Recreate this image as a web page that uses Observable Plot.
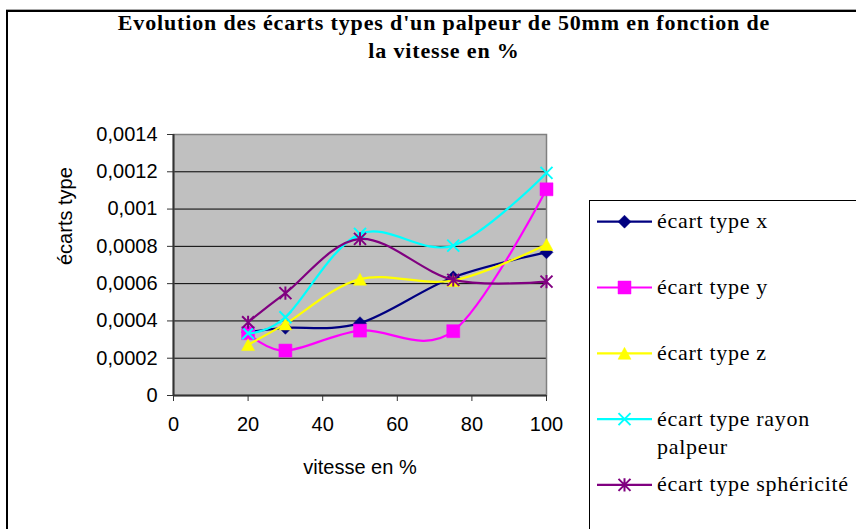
<!DOCTYPE html>
<html>
<head>
<meta charset="utf-8">
<script src="https://cdn.jsdelivr.net/npm/d3@7"></script>
<script src="https://cdn.jsdelivr.net/npm/@observablehq/plot@0.6"></script>
<style>
  html, body { margin: 0; padding: 0; background: #fff; }
  body { width: 856px; height: 529px; overflow: hidden; position: relative; }
  #chart-area {
    position: absolute; left: 6px; top: 10px; width: 900px; height: 600px;
    border: 2px solid #000; box-shadow: 0 -1px 0 #a8a8a8; box-sizing: border-box;
  }
  #title {
    position: absolute; left: 0; top: 9px; width: 888px; text-align: center;
    font-family: "Liberation Serif", "Times New Roman", serif; font-weight: bold;
    font-size: 22px; line-height: 28px; letter-spacing: 0.85px; color: #000;
  }
  #plot { position: absolute; left: 0; top: 0; }
  #legend { position: absolute; left: 0; top: 0; }
</style>
</head>
<body>
<div id="chart-area"></div>
<div id="title">Evolution des écarts types d'un palpeur de 50mm en fonction de<br>la vitesse en %</div>
<div id="plot"></div>
<svg id="legend" width="856" height="529"></svg>
<script>
// Speed settings (% of max) and standard deviations for each measured quantity
const vitesse = [20, 30, 50, 75, 100];
const ecartTypeX = [0.00034, 0.000363, 0.000388, 0.000634, 0.000768];
const ecartTypeY = [0.000334, 0.000241, 0.000348, 0.000345, 0.001106];
const ecartTypeZ = [0.000273, 0.000384, 0.000624, 0.000617, 0.00081];
const ecartTypeRayon = [0.000334, 0.00042, 0.000867, 0.000804, 0.001194];
const ecartTypeSphericite = [0.000393, 0.000549, 0.00084, 0.00062, 0.000611];

const seriesNames = ["écart type x", "écart type y", "écart type z", "écart type rayon palpeur", "écart type sphéricité"];
const seriesValues = [ecartTypeX, ecartTypeY, ecartTypeZ, ecartTypeRayon, ecartTypeSphericite];

const xTicks = [0, 20, 40, 60, 80, 100];
const yTicks = [0, 0.0002, 0.0004, 0.0006, 0.0008, 0.001, 0.0012, 0.0014];

// Marker shapes in the spreadsheet style (bounding box centred on the point)
const rOf = size => Math.sqrt(size / Math.PI);
const symDiamond = { draw(c, size) { const h = rOf(size); c.moveTo(0, -h); c.lineTo(h, 0); c.lineTo(0, h); c.lineTo(-h, 0); c.closePath(); } };
const symSquare = { draw(c, size) { const h = rOf(size); c.rect(-h, -h, 2 * h, 2 * h); } };
const symTriangle = { draw(c, size) { const h = rOf(size); c.moveTo(0, -h * 0.92); c.lineTo(h, h * 0.92); c.lineTo(-h, h * 0.92); c.closePath(); } };
const symTimes = { draw(c, size) { const h = rOf(size); c.moveTo(-h, -h); c.lineTo(h, h); c.moveTo(h, -h); c.lineTo(-h, h); } };
const symAsterisk = { draw(c, size) { const h = rOf(size); c.moveTo(-h, -h); c.lineTo(h, h); c.moveTo(h, -h); c.lineTo(-h, h); c.moveTo(0, -h * 1.1); c.lineTo(0, h * 1.1); } };

const styles = [
  { color: "#000080", symbol: symDiamond, r: 6.5, filled: true },
  { color: "#ff00ff", symbol: symSquare, r: 6.5, filled: true },
  { color: "#ffff00", symbol: symTriangle, r: 6.5, filled: true },
  { color: "#00ffff", symbol: symTimes, r: 6, filled: false },
  { color: "#800080", symbol: symAsterisk, r: 6, filled: false }
];

const rows = seriesNames.flatMap((name, i) =>
  vitesse.map((v, j) => ({ series: name, vitesse: v, ecart: seriesValues[i][j] })));

const fmtY = d => String(+d.toFixed(4)).replace(".", ",");

const seriesMarks = seriesNames.flatMap((name, i) => {
  const data = rows.filter(d => d.series === name);
  const s = styles[i];
  return [
    Plot.line(data, { x: "vitesse", y: "ecart", stroke: s.color, strokeWidth: 2.2, curve: "cardinal" }),
    Plot.dot(data, {
      x: "vitesse", y: "ecart", symbol: s.symbol, r: s.r,
      fill: s.filled ? s.color : "none", stroke: s.color, strokeWidth: s.filled ? 0.5 : 2
    })
  ];
});

const chart = Plot.plot({
  width: 856,
  height: 529,
  marginLeft: 173,
  marginRight: 310,
  marginTop: 134,
  marginBottom: 134,
  x: { domain: [0, 100] },
  y: { domain: [0, 0.0014] },
  style: { fontFamily: "'Liberation Sans', Arial, sans-serif", fontSize: "20px", background: "transparent", color: "#000" },
  marks: [
    Plot.frame({ fill: "#c0c0c0" }),
    Plot.gridY(yTicks.slice(1, -1), { stroke: "#000", strokeOpacity: 1, strokeWidth: 1 }),
    Plot.frame({ stroke: "#808080", strokeWidth: 1.5 }),
    Plot.ruleX([0], { stroke: "#333", strokeWidth: 2 }),
    Plot.ruleY([0], { stroke: "#333", strokeWidth: 2 }),
    Plot.axisY(yTicks, { tickSize: 6, tickPadding: 10, tickFormat: fmtY, label: null, fontSize: 20, stroke: "#333" }),
    Plot.axisX(xTicks, { tickSize: 6, tickPadding: 15, label: null, fontSize: 20, stroke: "#333" }),
    Plot.text(["écarts type"], { frameAnchor: "left", dx: -108, rotate: -90, fontSize: 20, lineAnchor: "middle" }),
    Plot.text(["vitesse en %"], { frameAnchor: "bottom", dy: 72, fontSize: 20, lineAnchor: "middle" }),
    ...seriesMarks
  ]
});
document.getElementById("plot").appendChild(chart);

// Legend box on the right
const legend = d3.select("#legend");
legend.append("rect").attr("x", 589.5).attr("y", 200.5).attr("width", 320).attr("height", 400)
  .attr("fill", "#fff").attr("stroke", "#000").attr("stroke-width", 1);
const legendLines = [["écart type x"], ["écart type y"], ["écart type z"], ["écart type rayon", "palpeur"], ["écart type sphéricité"]];
legendLines.forEach((lines, i) => {
  const y = 221.7 + i * 65.8;
  const s = styles[i];
  const g = legend.append("g");
  g.append("line").attr("x1", 597).attr("x2", 652).attr("y1", y).attr("y2", y)
    .attr("stroke", s.color).attr("stroke-width", 2.2);
  g.append("path").attr("transform", `translate(624.5,${y})`)
    .attr("d", d3.symbol(s.symbol, Math.PI * s.r * s.r)())
    .attr("fill", s.filled ? s.color : "none").attr("stroke", s.color)
    .attr("stroke-width", s.filled ? 0.5 : 2);
  lines.forEach((t, k) => {
    g.append("text").attr("x", 657).attr("y", y + 6.5 + k * 28)
      .attr("font-family", "'Liberation Serif', 'Times New Roman', serif")
      .attr("font-size", 22).attr("letter-spacing", 0.7).attr("fill", "#000").text(t);
  });
});
</script>
</body>
</html>
